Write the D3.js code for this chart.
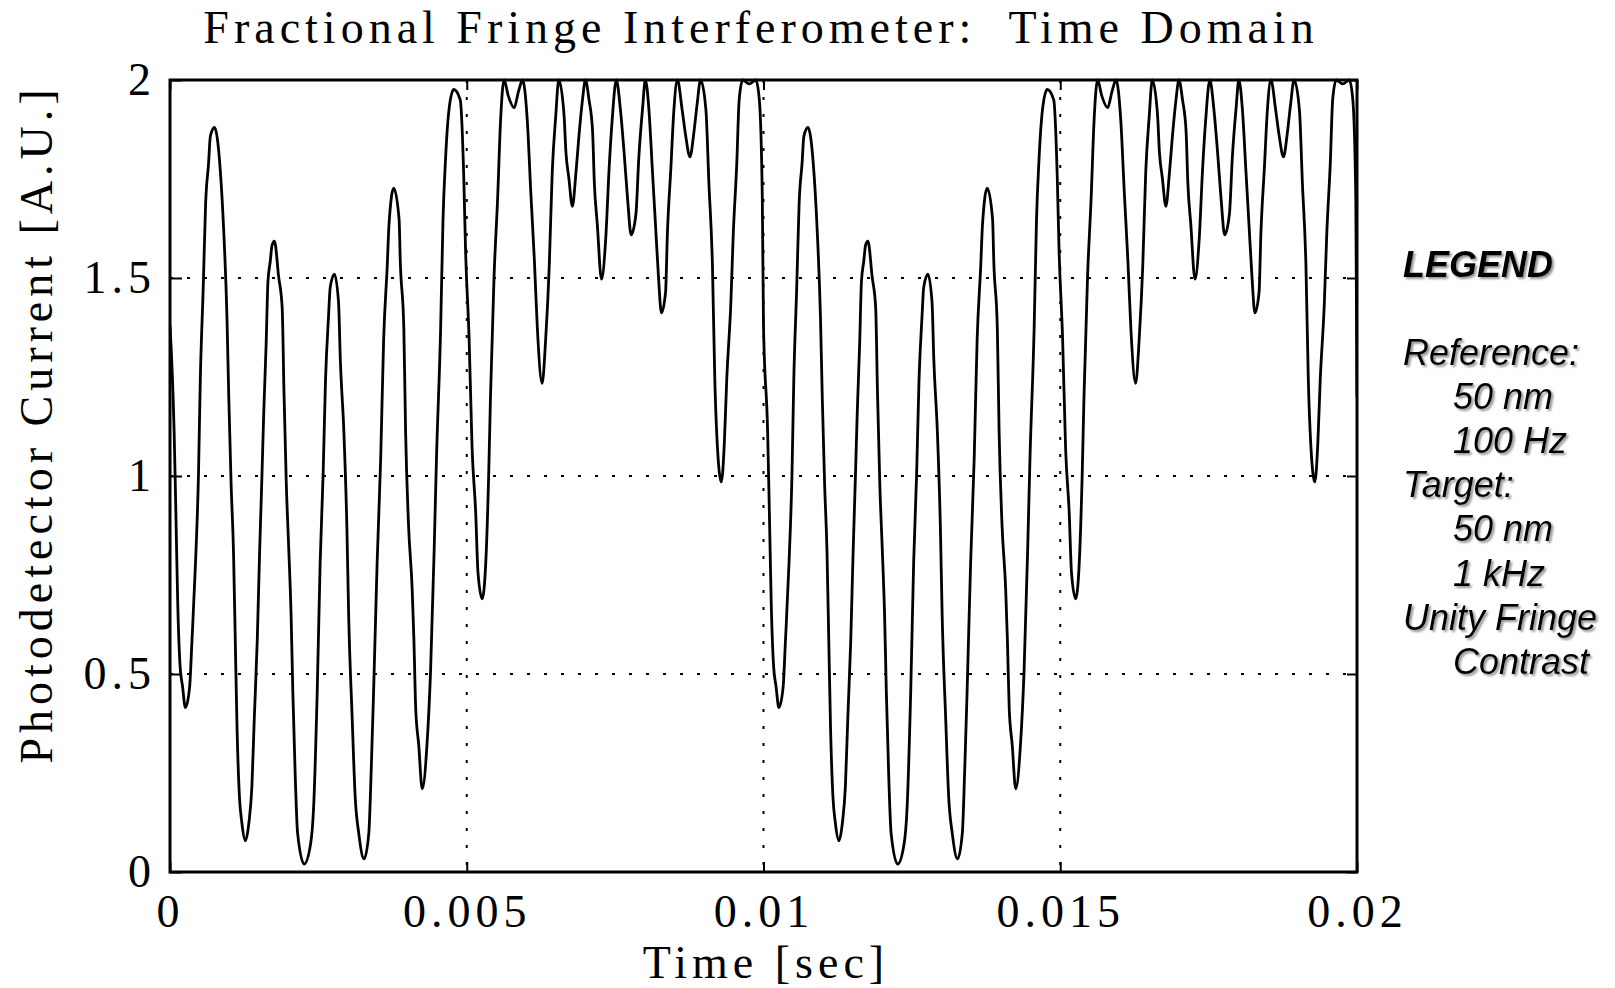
<!DOCTYPE html>
<html>
<head>
<meta charset="utf-8">
<script src="https://cdn.jsdelivr.net/npm/d3@7"></script>
<style>
  body { margin: 0; background: #fff; }
  svg { display: block; }
</style>
</head>
<body>
<svg id="chart" width="1615" height="988"></svg>
<script>
// ---- data (time in ms, current in A.U.) ----
var sweep1Ms = [0.00,0.07,0.10,0.13,0.17,0.21,0.26,0.33,0.37,0.43,0.48,0.51,0.56,0.60,0.65,0.68,0.75,0.85,0.90,0.96,
  0.99,1.03,1.07,1.10,1.13,1.17,1.21,1.27,1.33,1.38,1.42,1.47,1.51,1.55,1.58,1.62,1.65,1.69,1.72,1.76,
  1.83,1.89,1.92,1.96,2.00,2.04,2.07,2.11,2.15,2.26,2.37,2.42,2.48,2.53,2.58,2.62,2.67,2.70,2.77,2.84,
  2.87,2.93,2.98,3.01,3.07,3.12,3.18,3.27,3.35,3.39,3.43,3.49,3.55,3.60,3.66,3.69,3.77,3.86,3.88,3.94,
  3.97,4.02,4.08,4.11,4.14,4.19,4.25,4.33,4.39,4.45,4.49,4.56,4.60,4.64,4.70,4.78,4.89,4.95,4.98,5.04,
  5.09,5.15,5.19,5.26,5.32,5.37,5.40,5.46,5.52,5.57,5.63,5.70,5.80,5.87,5.94,6.02,6.08,6.14,6.19,6.27,
  6.33,6.39,6.44,6.50,6.55,6.64,6.67,6.72,6.78,6.84,6.89,6.95,7.00,7.06,7.12,7.15,7.20,7.27,7.34,7.40,
  7.45,7.52,7.59,7.65,7.71,7.77,7.85,7.90,7.96,8.01,8.07,8.13,8.18,8.23,8.28,8.35,8.38,8.44,8.49,8.55,
  8.63,8.69,8.76,8.83,8.88,8.94,9.03,9.08,9.14,9.18,9.22,9.29,9.34,9.38,9.45,9.49,9.55,9.59,9.65,9.76,
  9.87,9.93,9.98];
var sweep1Current = [1.38,1.11,0.90,0.68,0.52,0.47,0.415,0.466,0.584,0.781,1.005,1.24,1.477,1.687,1.79,1.858,1.88,1.766,1.635,1.40,
  1.20,0.978,0.808,0.584,0.361,0.19,0.125,0.079,0.125,0.217,0.387,0.584,0.808,1.005,1.162,1.333,1.49,1.543,1.583,1.593,
  1.504,1.425,1.215,0.978,0.82,0.65,0.453,0.243,0.098,0.02,0.072,0.164,0.453,0.781,1.005,1.241,1.40,1.477,1.51,1.438,
  1.293,1.11,0.873,0.65,0.387,0.19,0.098,0.033,0.098,0.256,0.453,0.781,1.045,1.346,1.53,1.635,1.727,1.648,1.543,1.372,
  1.11,0.873,0.716,0.584,0.413,0.322,0.21,0.322,0.506,0.808,1.045,1.372,1.648,1.793,1.924,1.976,1.95,1.753,1.57,1.346,
  1.07,0.91,0.755,0.69,0.78,1.005,1.20,1.504,1.70,1.898,2.0,1.96,1.93,1.97,2.0,1.898,1.714,1.543,1.372,1.234,
  1.346,1.53,1.766,1.91,2.0,1.91,1.82,1.753,1.681,1.766,1.858,1.95,2.0,1.95,1.871,1.74,1.635,1.497,1.595,1.78,
  1.898,2.0,1.924,1.819,1.70,1.609,1.661,1.806,1.924,2.0,1.924,1.766,1.635,1.504,1.412,1.464,1.609,1.78,1.924,2.0,
  1.924,1.858,1.806,1.871,1.937,2.0,1.924,1.74,1.53,1.241,1.083,0.985,1.083,1.241,1.438,1.609,1.79,1.95,2.0,1.99,
  2.0,1.95,1.70];
var sweep2Ms = [10.00,10.07,10.10,10.13,10.17,10.21,10.26,10.33,10.37,10.43,10.48,10.51,10.56,10.60,10.65,10.68,10.75,10.85,10.90,10.96,
  10.99,11.03,11.07,11.10,11.13,11.17,11.21,11.27,11.33,11.38,11.42,11.47,11.51,11.55,11.58,11.62,11.65,11.69,11.72,11.76,
  11.83,11.89,11.92,11.96,12.00,12.04,12.07,12.11,12.15,12.26,12.37,12.42,12.48,12.53,12.58,12.62,12.67,12.70,12.77,12.84,
  12.87,12.93,12.98,13.01,13.07,13.12,13.18,13.27,13.35,13.39,13.43,13.49,13.55,13.60,13.66,13.69,13.77,13.86,13.88,13.94,
  13.97,14.02,14.08,14.11,14.14,14.19,14.25,14.33,14.39,14.45,14.49,14.56,14.60,14.64,14.70,14.78,14.89,14.95,14.98,15.04,
  15.09,15.15,15.19,15.26,15.32,15.37,15.40,15.46,15.52,15.57,15.63,15.70,15.80,15.87,15.94,16.02,16.08,16.14,16.19,16.27,
  16.33,16.39,16.44,16.50,16.55,16.64,16.67,16.72,16.78,16.84,16.89,16.95,17.00,17.06,17.12,17.15,17.20,17.27,17.34,17.40,
  17.45,17.52,17.59,17.65,17.71,17.77,17.85,17.90,17.96,18.01,18.07,18.13,18.18,18.23,18.28,18.35,18.38,18.44,18.49,18.55,
  18.63,18.69,18.76,18.83,18.88,18.94,19.03,19.08,19.14,19.18,19.22,19.29,19.34,19.38,19.45,19.49,19.55,19.59,19.65,19.76,
  19.87,19.93,19.98,20.00];
var sweep2Current = [1.38,1.11,0.90,0.68,0.52,0.47,0.415,0.466,0.584,0.781,1.005,1.24,1.477,1.687,1.79,1.858,1.88,1.766,1.635,1.40,
  1.20,0.978,0.808,0.584,0.361,0.19,0.125,0.079,0.125,0.217,0.387,0.584,0.808,1.005,1.162,1.333,1.49,1.543,1.583,1.593,
  1.504,1.425,1.215,0.978,0.82,0.65,0.453,0.243,0.098,0.02,0.072,0.164,0.453,0.781,1.005,1.241,1.40,1.477,1.51,1.438,
  1.293,1.11,0.873,0.65,0.387,0.19,0.098,0.033,0.098,0.256,0.453,0.781,1.045,1.346,1.53,1.635,1.727,1.648,1.543,1.372,
  1.11,0.873,0.716,0.584,0.413,0.322,0.21,0.322,0.506,0.808,1.045,1.372,1.648,1.793,1.924,1.976,1.95,1.753,1.57,1.346,
  1.07,0.91,0.755,0.69,0.78,1.005,1.20,1.504,1.70,1.898,2.0,1.96,1.93,1.97,2.0,1.898,1.714,1.543,1.372,1.234,
  1.346,1.53,1.766,1.91,2.0,1.91,1.82,1.753,1.681,1.766,1.858,1.95,2.0,1.95,1.871,1.74,1.635,1.497,1.595,1.78,
  1.898,2.0,1.924,1.819,1.70,1.609,1.661,1.806,1.924,2.0,1.924,1.766,1.635,1.504,1.412,1.464,1.609,1.78,1.924,2.0,
  1.924,1.858,1.806,1.871,1.937,2.0,1.924,1.74,1.53,1.241,1.083,0.985,1.083,1.241,1.438,1.609,1.79,1.95,2.0,1.99,
  2.0,1.95,1.70,1.20];

var xTicks = [0, 0.005, 0.01, 0.015, 0.02];
var xTickLabels = ["0", "0.005", "0.01", "0.015", "0.02"];
var yTicks = [0, 0.5, 1, 1.5, 2];
var yTickLabels = ["0", "0.5", "1", "1.5", "2"];
var legendTitle = "LEGEND";
var legendLines = ["Reference:", "50 nm", "100 Hz", "Target:", "50 nm", "1 kHz", "Unity Fringe", "Contrast"];
var legendIndent = [0, 1, 1, 0, 1, 1, 0, 1];

// ---- layout ----
var svg = d3.select("#chart");
var plotL = 170, plotR = 1357, plotT = 80, plotB = 872;
var serif = "'Liberation Serif', 'Times New Roman', serif";
var sans = "'Liberation Sans', Arial, sans-serif";

var x = d3.scaleLinear().domain([0, 0.02]).range([plotL, plotR]);
var y = d3.scaleLinear().domain([0, 2]).range([plotB, plotT]);

var points = [];
sweep1Ms.forEach(function(t, i) { points.push([t, sweep1Current[i]]); });
sweep2Ms.forEach(function(t, i) { points.push([t, sweep2Current[i]]); });

var defs = svg.append("defs");
defs.append("clipPath").attr("id", "plotClip")
  .append("rect").attr("x", plotL).attr("y", plotT - 2).attr("width", plotR - plotL).attr("height", plotB - plotT + 4);
defs.append("filter").attr("id", "shadow").attr("x", "-10%").attr("y", "-20%").attr("width", "130%").attr("height", "160%")
  .append("feDropShadow").attr("dx", 2).attr("dy", 2).attr("stdDeviation", 1.2)
  .attr("flood-color", "#777").attr("flood-opacity", 0.8);

// dotted grid
svg.append("g").selectAll("line").data(yTicks.slice(1, 4)).join("line")
  .attr("x1", plotL).attr("x2", plotR)
  .attr("y1", function(d) { return y(d); }).attr("y2", function(d) { return y(d); })
  .attr("stroke", "#000").attr("stroke-width", 2).attr("stroke-dasharray", "3,14");
svg.append("g").selectAll("line").data(xTicks.slice(1, 4)).join("line")
  .attr("y1", plotT).attr("y2", plotB)
  .attr("x1", function(d) { return x(d); }).attr("x2", function(d) { return x(d); })
  .attr("stroke", "#000").attr("stroke-width", 2).attr("stroke-dasharray", "3,14");

// waveform
var line = d3.line()
  .x(function(d) { return x(d[0] / 1000); })
  .y(function(d) { return y(d[1]); })
  .curve(d3.curveMonotoneX);
svg.append("path").datum(points)
  .attr("d", line)
  .attr("fill", "none").attr("stroke", "#000").attr("stroke-width", 2.8)
  .attr("stroke-linejoin", "round")
  .attr("clip-path", "url(#plotClip)");

// axes (inward ticks)
function styleAxis(g) {
  g.select(".domain").remove();
  g.selectAll(".tick line").attr("stroke-width", 2);
  g.attr("font-family", serif).attr("font-size", 46);
  g.selectAll(".tick text").attr("fill", "#000").style("letter-spacing", "5px");
}
svg.append("g").attr("transform", "translate(0," + plotB + ")")
  .call(d3.axisBottom(x).tickValues(xTicks).tickSize(-10).tickPadding(22)
    .tickFormat(function(d, i) { return xTickLabels[i]; }))
  .call(styleAxis);
svg.append("g").attr("transform", "translate(0," + plotT + ")")
  .call(d3.axisTop(x).tickValues(xTicks).tickSize(-10).tickFormat(""))
  .call(styleAxis);
svg.append("g").attr("transform", "translate(" + plotL + ",0)")
  .call(d3.axisLeft(y).tickValues(yTicks).tickSize(-12).tickPadding(14)
    .tickFormat(function(d, i) { return yTickLabels[i]; }))
  .call(styleAxis);
svg.append("g").attr("transform", "translate(" + plotR + ",0)")
  .call(d3.axisRight(y).tickValues(yTicks).tickSize(-10).tickFormat(""))
  .call(styleAxis);

// frame
svg.append("rect").attr("x", plotL).attr("y", plotT)
  .attr("width", plotR - plotL).attr("height", plotB - plotT)
  .attr("fill", "none").attr("stroke", "#000").attr("stroke-width", 3);

// titles
svg.append("text").attr("x", 761).attr("y", 43)
  .attr("text-anchor", "middle").attr("font-family", serif).attr("font-size", 46)
  .style("letter-spacing", "5px").style("white-space", "pre")
  .text("Fractional Fringe Interferometer:  Time Domain");
svg.append("text").attr("x", 766).attr("y", 978)
  .attr("text-anchor", "middle").attr("font-family", serif).attr("font-size", 46)
  .style("letter-spacing", "5px")
  .text("Time [sec]");
svg.append("text").attr("transform", "translate(52,424) rotate(-90)")
  .attr("text-anchor", "middle").attr("font-family", serif).attr("font-size", 46)
  .style("letter-spacing", "5px")
  .text("Photodetector Current [A.U.]");

// legend
var legend = svg.append("g").attr("font-family", sans).attr("font-style", "italic")
  .attr("font-size", 36).attr("filter", "url(#shadow)");
legend.append("text").attr("x", 1403).attr("y", 277).attr("font-weight", "bold").text(legendTitle);
legend.selectAll("text.item").data(legendLines).join("text").attr("class", "item")
  .attr("x", function(d, i) { return legendIndent[i] ? 1453 : 1403; })
  .attr("y", function(d, i) { return 365 + i * 44.1; })
  .text(function(d) { return d; });
</script>
</body>
</html>
